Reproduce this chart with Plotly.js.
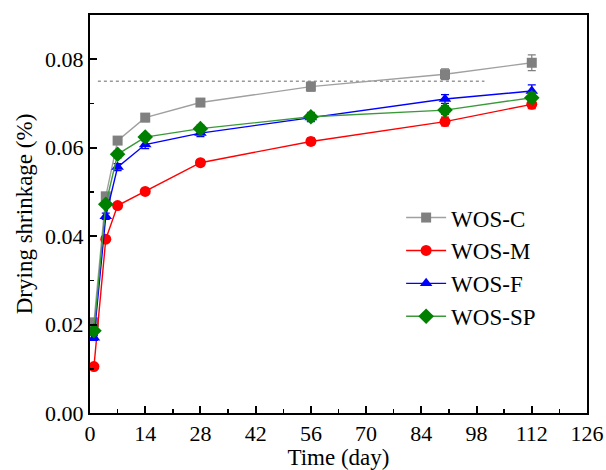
<!DOCTYPE html>
<html>
<head>
<meta charset="utf-8">
<script src="https://cdn.plot.ly/plotly-3.0.1.min.js"></script>
<style>html,body{margin:0;padding:0;background:#fff;}#chart{width:606px;height:470px;}</style>
</head>
<body>
<div id="chart"></div>
<script>
const days = [1, 4, 7, 14, 28, 56, 90, 112];
const seriesNames = ["WOS-C", "WOS-M", "WOS-F", "WOS-SP"];
const wosC  = [0.0205, 0.0490, 0.0616, 0.0668, 0.0702, 0.0738, 0.0766, 0.0792];
const wosM  = [0.0105, 0.0393, 0.0469, 0.0501, 0.0566, 0.0614, 0.0659, 0.0698];
const wosF  = [0.0170, 0.0445, 0.0556, 0.0607, 0.0633, 0.0668, 0.0710, 0.0728];
const wosSP = [0.0186, 0.0472, 0.0585, 0.0624, 0.0643, 0.0670, 0.0685, 0.0713];
const errC  = [0.0008, 0.0008, 0.0008, 0.0009, 0.0008, 0.0010, 0.0012, 0.0018];
const errM  = [0.0005, 0.0006, 0.0006, 0.0006, 0.0007, 0.0008, 0.0010, 0.0010];
const errF  = [0.0006, 0.0007, 0.0008, 0.0009, 0.0008, 0.0009, 0.0010, 0.0014];
const errSP = [0.0006, 0.0007, 0.0008, 0.0008, 0.0008, 0.0010, 0.0010, 0.0012];
const refX = [2, 100];
const refY = [0.075, 0.075];
const xTicks = [0, 14, 28, 42, 56, 70, 84, 98, 112, 126];
const yTicks = [0, 0.02, 0.04, 0.06, 0.08];

const FONT = '"Liberation Serif", "Times New Roman", serif';

function series(name, y, err, color, lineColor, symbol, size) {
  return {
    x: days, y: y, name: name, type: 'scatter', mode: 'lines+markers',
    line: {color: lineColor, width: 1.4},
    marker: {color: color, symbol: symbol, size: size},
    error_y: {type: 'data', array: err, visible: true, color: color, thickness: 1.2, width: 4}
  };
}

const traces = [
  {x: refX, y: refY, type: 'scatter', mode: 'lines', showlegend: false, hoverinfo: 'skip',
   line: {color: '#999999', width: 1.5, dash: 'dot'}},
  series(seriesNames[0], wosC, errC, '#808080', '#a0a0a0', 'square', 10),
  series(seriesNames[1], wosM, errM, '#ff0000', '#ff0000', 'circle', 11),
  series(seriesNames[2], wosF, errF, '#0000ff', '#0000ff', 'triangle-up', 11),
  series(seriesNames[3], wosSP, errSP, '#008000', '#3a9a3a', 'diamond', 12)
];

const axisCommon = {
  showline: true, linecolor: '#000', linewidth: 2, mirror: true,
  ticks: 'inside', ticklen: 7, tickwidth: 2, tickcolor: '#000',
  showgrid: false, zeroline: false,
  tickfont: {family: FONT, size: 22, color: '#000'}
};

const layout = {
  width: 606, height: 470,
  margin: {l: 90, r: 19, t: 15, b: 57},
  paper_bgcolor: '#fff', plot_bgcolor: '#fff',
  font: {family: FONT, color: '#000'},
  xaxis: Object.assign({}, axisCommon, {
    range: [0, 126], tickmode: 'array', tickvals: xTicks, ticktext: xTicks.map(String),
    minor: {dtick: 7, tick0: 0, ticks: 'inside', ticklen: 4, tickwidth: 1.5, tickcolor: '#000'},
    title: {text: 'Time (day)', font: {family: FONT, size: 23, color: '#000'}, standoff: 2}
  }),
  yaxis: Object.assign({}, axisCommon, {
    range: [0, 0.09], tickmode: 'array', tickvals: yTicks, ticktext: yTicks.map(v => v.toFixed(2)),
    minor: {dtick: 0.01, tick0: 0, ticks: 'inside', ticklen: 4, tickwidth: 1.5, tickcolor: '#000'},
    title: {text: 'Drying shrinkage (%)', font: {family: FONT, size: 23, color: '#000'}, standoff: 6}
  }),
  legend: {
    x: 0.626, y: 0.545, xanchor: 'left', yanchor: 'top',
    bgcolor: 'rgba(0,0,0,0)', borderwidth: 0,
    font: {family: FONT, size: 23, color: '#000'},
    tracegroupgap: 0, itemwidth: 40
  },
  showlegend: true
};

Plotly.newPlot('chart', traces, layout, {displayModeBar: false, staticPlot: true});
</script>
</body>
</html>
